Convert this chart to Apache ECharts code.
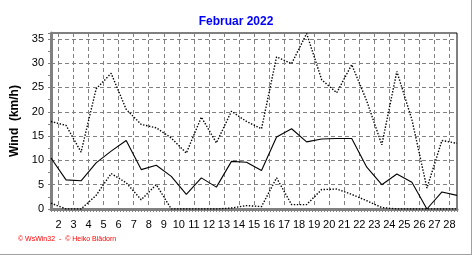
<!DOCTYPE html>
<html><head><meta charset="utf-8">
<script src="https://cdn.jsdelivr.net/npm/echarts@6/dist/echarts.min.js"></script>
<style>html,body{margin:0;padding:0;background:#fff}#c{width:472px;height:255px}</style>
</head><body><div id="c"></div>
<script>
const days = [1,2,3,4,5,6,7,8,9,10,11,12,13,14,15,16,17,18,19,20,21,22,23,24,25,26,27,28];
const xLabels = ['2','3','4','5','6','7','8','9','10','11','12','13','14','15','16','17','18','19','20','21','22','23','24','25','26','27','28'];
const windMax = [18.0,17.2,11.7,24.7,27.9,20.5,17.4,16.7,14.6,11.5,18.9,13.6,20.1,18.0,16.5,31.3,29.9,36.1,26.6,23.9,29.7,22.2,13.2,28.3,18.4,4.3,14.1,13.5];
const windAvg = [10.5,6.0,5.8,9.5,11.9,14.1,8.1,9.0,6.7,3.0,6.4,4.5,9.8,9.6,7.9,14.8,16.5,13.8,14.4,14.5,14.5,8.6,5.0,7.2,5.5,0.0,3.5,2.8];
const windMin = [1.2,0,0,2.8,7.3,5.4,1.9,5.0,0,0,0,0,0.2,0.7,0.5,6.4,0.9,0.9,4.0,4.1,3.0,1.7,0.3,0,0,0,0,0];

const FONT = 'Liberation Sans, Arial, sans-serif';
const GREY = '#808080';
const pairs = arr => days.map((d, i) => [d, arr[i]]);

const chart = echarts.init(document.getElementById('c'), null, {renderer: 'canvas'});
chart.setOption({
  animation: false,
  backgroundColor: '#fff',
  title: {
    text: 'Februar 2022', left: 'center', top: 11,
    textStyle: {color: '#0000ff', fontWeight: 'bold', fontSize: 12, fontFamily: FONT}
  },
  grid: {left: 51, right: 15, top: 33, bottom: 46, show: true, borderColor: '#000', borderWidth: 1, backgroundColor: '#fff'},
  xAxis: [
    {
      type: 'value', min: days[0], max: days[days.length - 1], interval: 1, position: 'bottom',
      axisLine: {show: true, lineStyle: {color: GREY, width: 3}},
      axisTick: {show: true, length: 3, lineStyle: {color: GREY}},
      minorTick: {show: true, splitNumber: 5, length: 3, lineStyle: {color: GREY}},
      axisLabel: {show: false}, splitLine: {show: false}
    },
    {
      type: 'value', min: days[0], max: days[days.length - 1], interval: 1, position: 'bottom',
      axisLine: {show: false}, axisTick: {show: false}, axisLabel: {show: false},
      splitLine: {show: false},
      minorTick: {show: false, splitNumber: 2},
      minorSplitLine: {show: true, lineStyle: {color: GREY, width: 1, type: [4, 3]}}
    },
    {
      type: 'category', data: xLabels, boundaryGap: true, position: 'bottom',
      axisLine: {show: false}, axisTick: {show: false}, splitLine: {show: false},
      axisLabel: {interval: 0, fontSize: 11, color: '#000', margin: 10, fontFamily: FONT}
    }
  ],
  yAxis: {
    type: 'value', min: 0, max: 36.2, interval: 5,
    axisLine: {show: true, lineStyle: {color: GREY, width: 3}},
    axisTick: {show: true, length: 3, lineStyle: {color: GREY}},
    minorTick: {show: true, splitNumber: 2, length: 3, lineStyle: {color: GREY}},
    splitLine: {show: true, lineStyle: {color: GREY, width: 1, type: [4, 3]}},
    axisLabel: {fontSize: 11, color: '#000', margin: 7, showMaxLabel: false, fontFamily: FONT},
    name: 'Wind  (km/h)', nameLocation: 'middle', nameRotate: 90, nameGap: 22,
    nameTextStyle: {fontWeight: 'bold', fontSize: 12, color: '#000', fontFamily: FONT}
  },
  series: [
    {name: 'max', type: 'line', xAxisIndex: 0, data: pairs(windMax), symbol: 'none',
     lineStyle: {color: '#000', width: 1.4, type: [1.4, 1.6]}},
    {name: 'avg', type: 'line', xAxisIndex: 0, data: pairs(windAvg), symbol: 'none',
     lineStyle: {color: '#000', width: 1.1}},
    {name: 'min', type: 'line', xAxisIndex: 0, data: pairs(windMin), symbol: 'none',
     lineStyle: {color: '#000', width: 1.4, type: [1.4, 1.6]}}
  ],
  graphic: [
    {type: 'text', left: 18, top: 236, style: {text: '\u00a9 WsWin32  -  \u00a9 Heiko Bl\u00e4dorn', fill: '#ff0000', font: '7px ' + FONT}},
    {type: 'line', shape: {x1: 0, y1: 254.5, x2: 472, y2: 254.5}, style: {stroke: '#a0a0a0', lineWidth: 1}},
    {type: 'line', shape: {x1: 471.5, y1: 0, x2: 471.5, y2: 255}, style: {stroke: '#a0a0a0', lineWidth: 1}}
  ]
});
</script>
</body></html>
